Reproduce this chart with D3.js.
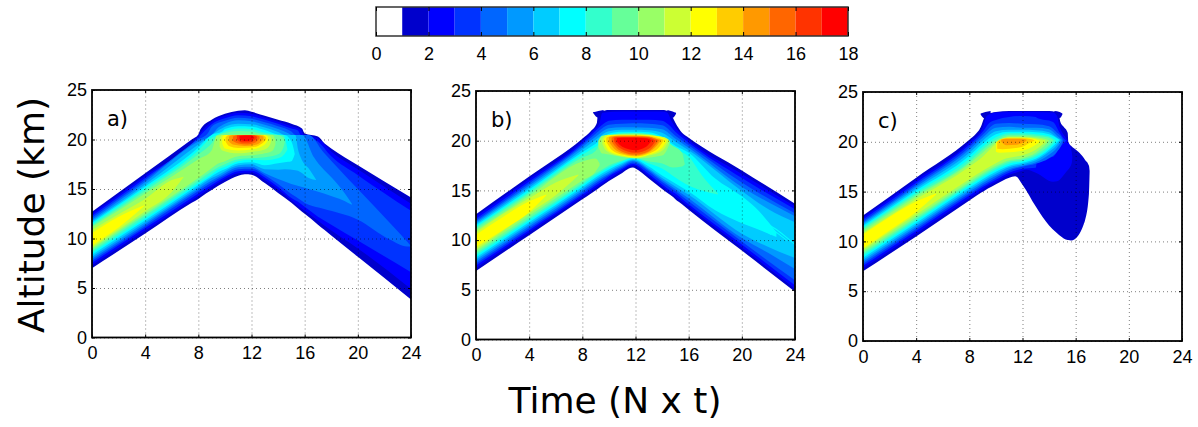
<!DOCTYPE html>
<html>
<head>
<meta charset="utf-8">
<title>Altitude vs time contours</title>
<style>
  html, body { margin: 0; padding: 0; background: #fff; }
  svg { display: block; }
  text { font-family: "Liberation Sans", sans-serif; fill: #000; }
  .title, .tag { font-family: "DejaVu Sans", sans-serif; }
</style>
<script src="https://d3js.org/d3.v7.min.js"></script>
</head>
<body>
<svg width="1198" height="427"></svg>
<script>
// colour of each unit step of the colourbar, 0-1 up to 17-18
var levelColors = ["#ffffff","#0000cc","#0000ff","#0033ff","#0066ff","#0099ff","#00ccff","#00ffff",
                   "#33ffcc","#66ff99","#99ff66","#ccff33","#ffff00","#ffcc00","#ff9900","#ff6600","#ff3300","#ff0000"];
var barTicks = [0,2,4,6,8,10,12,14,16,18];
var timeTicks = [0,4,8,12,16,20,24];
var altTicks = [0,5,10,15,20,25];

// contour bands: [level, [[time, lower km, upper km], ...]]
var bandsA = [
  [1,[[0,7,12.7],[4,10.5,16.6],[7.5,13.6,20],[8,14,20.5],[8.15,14.15,21],[9,14.9,22],[10,15.7,22.6],[11,16.35,22.9],[11.5,16.5,22.95],[12,16.45,22.8],[13,15.6,22.4],[14,14.6,22],[15,13.6,21.6],[15.8,12.7,21.1],[16,12.5,20.6],[17,11.4,20.3],[17.5,10.85,19.6],[18,10.3,19.1],[20,8.15,17.4],[24,3.85,14.15]]],
  [2,[[0,7.3,12.5],[4,10.8,16.35],[8,14.3,20.35],[8.3,14.55,20.9],[9,15.2,21.8],[10,16,22.4],[11,16.6,22.7],[12,16.65,22.6],[13,15.9,22.2],[14,14.95,21.8],[15,13.85,21.35],[15.7,13.1,21],[15.9,12.9,20.5],[17,11.8,20.1],[18,10.8,18.8],[20,9,17],[24,4.9,13.5]]],
  [3,[[0,7.55,12.3],[4,11.05,16.1],[8,14.55,20.2],[8.5,15,20.9],[9,15.4,21.55],[10,16.2,22.15],[11,16.8,22.45],[12,16.85,22.35],[13,16.15,22],[14,15.2,21.6],[15,14.1,21.1],[15.5,13.7,20.9],[15.7,13.5,20.45],[16,13.2,20.4],[17,12.2,19.8],[18,11.4,18.3],[20,9.8,16.4],[24,6.6,12.8]]],
  [4,[[0,7.75,12.1],[4,11.25,15.9],[8,14.8,20],[8.7,15.4,20.6],[9,15.65,21.3],[10,16.4,21.9],[11,17,22.2],[12,17.05,22.1],[13,16.4,21.75],[14,15.5,21.35],[15,14.5,20.8],[15.3,14.25,20.45],[16.3,13.4,20.45],[17.4,13,18.75],[20,11.9,15],[22.4,9.9,11.6],[23.7,9.2,9.7],[24,9.2,9.25]]],
  [5,[[0,7.95,11.9],[4,11.45,15.7],[8,15,19.8],[9,15.85,20.45],[9.5,16.2,21.2],[10,16.6,21.6],[11,17.2,21.95],[12,17.25,21.85],[13,16.6,21.5],[14,16,21.05],[14.8,15.6,20.6],[15,15.5,20.45],[15.8,15.2,20.45],[16.7,14.85,18.2],[18.2,14.2,15.9],[19,13.8,14.6],[19.55,13.4,13.5]]],
  [6,[[0,8.15,11.75],[4,11.65,15.45],[8,15.2,19.5],[9,16.1,20.45],[9.6,16.5,21],[10,16.8,21.3],[11,17.4,21.6],[12,17.5,21.55],[13,17,21.2],[14,16.95,20.75],[14.5,17,20.45],[15.3,16.9,20.45],[15.5,16.85,19],[15.7,16.7,18.2],[16.4,16.05,16.9],[16.85,15.9,15.95]]],
  [7,[[0,8.35,11.6],[4,11.85,15.25],[8,15.4,19.2],[9,16.3,20.45],[9.8,16.9,20.8],[10,17,21.05],[11,17.6,21.35],[12,17.7,21.3],[13,17.4,20.95],[14,17.6,20.5],[14.5,17.7,20.45],[15,17.8,19.8],[15.2,18.3,18.9],[15.25,18.5,18.55]]],
  [8,[[0,8.55,11.45],[4,12.05,15.05],[8,15.6,18.9],[9,16.5,20.2],[9.4,16.9,20.45],[10,17.25,20.8],[11,17.8,21.1],[12,17.95,21.05],[13,17.9,20.7],[14,18.1,20.45],[14.4,18.4,20.45],[14.7,19,19.05]]],
  [9,[[0,8.75,11.3],[4,12.3,14.8],[8,15.85,18.5],[9,16.8,19.6],[9.5,17.2,20.45],[10,17.5,20.65],[11,18,20.85],[12,18.1,20.8],[13,18.2,20.55],[14,18.5,20.45],[14.4,19.2,20.2],[14.5,19.7,19.75]]],
  [10,[[0,8.95,11.15],[4,12.5,14.55],[8,16.1,18],[9,17.1,18.9],[9.4,17.5,20.4],[10,17.8,20.45],[11,18.3,20.5],[12,18.4,20.5],[13,18.6,20.45],[13.6,18.9,20.45],[13.8,19.5,19.9]]],
  [11,[[0,9.1,10.85],[2,10.9,12.45],[4,12.75,14],[6,14.7,15.9],[6.9,16.2,16.25]]],
  [11,[[9.6,19.3,20.1],[9.8,18.9,20.45],[11,18.6,20.45],[12,18.75,20.45],[13,19,20.45],[13.4,19.5,20.3],[13.5,20,20.05]]],
  [12,[[0,9.3,10.55],[2,11.1,12.2],[3.95,13.3,13.35]]],
  [12,[[9.8,19.6,20.2],[10,19.1,20.45],[11,18.9,20.45],[12,19,20.45],[13,19.5,20.45],[13.25,20,20.2]]],
  [13,[[10.05,19.8,20.2],[10.3,19.35,20.45],[11,19.15,20.45],[12,19.2,20.45],[12.8,19.6,20.45],[13.1,20,20.2]]],
  [14,[[10.3,19.8,20.3],[10.6,19.5,20.45],[11.5,19.35,20.45],[12.4,19.5,20.45],[12.9,20,20.3]]],
  [15,[[10.6,19.85,20.3],[11,19.6,20.45],[11.7,19.5,20.45],[12.3,19.7,20.42],[12.6,20.1,20.3]]],
  [16,[[10.9,20,20.4],[11.3,19.7,20.45],[11.8,19.7,20.45],[12.2,19.9,20.4],[12.4,20.1,20.3]]],
  [17,[[11.1,20.05,20.35],[11.5,19.85,20.4],[12,19.95,20.4],[12.2,20.15,20.25]]]
];

var bandsB = [
  [1,[[0,6.9,12.6],[4,10.5,16.4],[8,14.1,20.2],[8.6,14.65,20.9],[9.1,15.1,21.8],[9.15,15.15,22.4],[9.4,15.4,22.9],[10,15.95,23.1],[11,16.75,23.1],[11.5,17.2,23.1],[11.8,17.3,23.1],[12,17.2,23.1],[13,16.2,23.1],[14,15.15,23.1],[14.6,14.55,22.9],[14.85,14.3,22.2],[15,14.1,21.8],[15.5,13.6,20.8],[16,13.05,20.3],[20,8.95,17],[24,4.8,13.65]]],
  [1,[[8.8,22.8,22.85],[9.2,22.3,23],[9.6,22.5,23.1]]],
  [1,[[14.4,22.5,23.1],[14.8,22.3,22.95],[15.05,22.7,22.8]]],
  [2,[[0,7.2,12.4],[4,10.8,16.15],[8,14.35,19.95],[8.8,15.1,21],[9.3,15.55,21.8],[9.5,15.7,22.8],[11,17,22.95],[11.8,17.5,22.95],[13,16.45,22.95],[14,15.4,22.95],[14.4,15,22.8],[14.7,14.7,22],[15.2,14.2,21],[16,13.35,20.05],[20,9.25,16.65],[24,5.1,13.4]]],
  [3,[[0,7.45,12.15],[4,11,15.9],[8,14.55,19.75],[9,15.5,21],[9.6,16,21.7],[10,16.4,22],[11,17.15,22.1],[11.8,17.65,22.1],[13,16.65,22.1],[14,15.6,22],[14.5,15.1,21.6],[15,14.7,20.9],[16,13.6,19.8],[20,9.55,16.25],[24,5.45,13.1]]],
  [4,[[0,7.65,11.95],[4,11.2,15.7],[8,14.75,19.55],[9,15.7,20.7],[10,16.55,21.6],[11,17.3,21.7],[11.8,17.8,21.75],[13,16.9,21.7],[14,15.85,21.55],[15,14.95,20.5],[16,13.9,19.55],[20,9.85,15.8],[24,5.95,12.7]]],
  [5,[[0,7.85,11.8],[4,11.4,15.5],[8,14.95,19.35],[9,15.9,20.4],[10,16.7,21.25],[11,17.45,21.35],[11.8,17.95,21.35],[13,17.05,21.3],[14,16.05,21.15],[15,15.15,20.2],[16,14.2,19.3],[20,10.2,15.35],[22,8.7,13.8],[24,7.1,12.4]]],
  [6,[[0,8.05,11.65],[4,11.6,15.3],[8,15.15,19.1],[9,16.1,20.1],[10,16.9,20.95],[11,17.6,21.1],[11.8,18.05,21.1],[13,17.2,21.05],[14,16.25,20.8],[15,15.4,19.9],[16,14.55,19.05],[20,10.65,14.95],[22,9.3,13.1],[24,8.2,11.8]]],
  [7,[[0,8.25,11.5],[4,11.8,15.1],[8,15.35,18.85],[9,16.3,19.7],[10,17.1,20.7],[11,17.75,20.9],[11.8,18.15,20.9],[13,17.4,20.85],[14,16.5,20.4],[15,15.7,19.5],[16,14.9,18.8],[18,13,16.2],[20,11.7,14.4],[21,11.2,13.3],[22.6,10.3,10.8]]],
  [7,[[19.8,12.9,13],[21,11.6,11.8],[22.2,10.5,10.6]]],
  [7,[[20.5,12.7,12.8],[22,11.3,11.45],[23.4,9.9,10]]],
  [7,[[21.5,11.9,12],[23,10.6,10.75],[24,9.5,9.6]]],
  [8,[[0,8.45,11.35],[4,12,14.9],[8,15.55,18.6],[9,16.5,19.4],[10,17.3,20.4],[11,17.9,20.8],[11.8,18.25,20.8],[13,17.7,20.7],[14,17.2,20.3],[15,16.3,19.2],[16,15.5,18.4],[17,15,16.5],[18.2,14.6,14.7]]],
  [9,[[0,8.65,11.2],[4,12.2,14.7],[8,15.75,18.3],[9,16.7,19],[9.5,17.1,19.9],[10,17.5,20.3],[11,18,20.7],[11.8,18.3,20.75],[13,17.9,20.65],[14,17.7,20.2],[14.8,17.3,19.5],[15.5,17.4,18.8],[15.7,17.6,17.7]]],
  [10,[[0,8.85,11],[4,12.45,14.45],[8,16,17.9],[9,16.9,18.2],[9.3,17.5,17.7]]],
  [10,[[9.2,19.4,20],[9.5,18.7,20.5],[10,18.6,20.6],[12,18.2,20.65],[14,18.5,20.4],[14.4,19.2,20.2],[14.6,19.9,19.95]]],
  [11,[[0,9.05,10.8],[2,10.9,12.6],[4,12.7,14.2],[6,14.5,15.8],[7.7,16.5,16.6]]],
  [11,[[9.5,19.7,20.2],[9.8,19,20.55],[11,18.4,20.6],[12,18.25,20.6],[13,18.5,20.55],[14.1,19.1,20.35],[14.5,20,20.1]]],
  [12,[[0,9.3,10.55],[2,11,12.3],[4,12.8,13.9],[5.3,14.5,14.6]]],
  [12,[[9.65,19.8,20.2],[10,19,20.55],[11,18.5,20.58],[12,18.3,20.58],[13,18.6,20.52],[14,19.3,20.3],[14.3,19.9,20.1]]],
  [13,[[9.8,19.9,20.3],[10.2,19.1,20.5],[11,18.6,20.55],[12,18.4,20.55],[13,18.7,20.48],[13.8,19.4,20.25],[14.1,20,20.1]]],
  [14,[[10,19.9,20.35],[10.4,19.2,20.48],[11,18.75,20.5],[12,18.5,20.5],[13,18.85,20.42],[13.6,19.5,20.2],[13.9,20,20.1]]],
  [15,[[10.2,19.9,20.3],[10.6,19.25,20.42],[11,18.9,20.42],[12,18.6,20.42],[13,18.95,20.38],[13.5,19.6,20.2],[13.75,20,20.05]]],
  [16,[[10.4,19.9,20.3],[10.8,19.3,20.38],[12,18.8,20.38],[13,19.2,20.3],[13.5,19.95,20.05]]],
  [17,[[10.6,19.9,20.25],[11,19.4,20.3],[12,19.05,20.3],[12.8,19.4,20.25],[13.2,20,20.05]]]
];

var bandsC = [
  [1,[[0,7,12.6],[4,10.5,16.4],[8,14.1,20.2],[8.5,14.55,20.8],[8.9,14.9,21.6],[9.05,15,22.2],[9.4,15.3,22.8],[10,15.75,23],[11,16.4,23.1],[11.45,16.55,23.1],[12,15.7,23.1],[13,13.5,23.1],[14,11.6,23.1],[14.5,10.95,23],[14.75,10.65,22.6],[14.85,10.55,22],[15.1,10.3,21.5],[15.4,10.15,20.9],[15.45,10.13,19.9],[15.65,10.1,19.6],[16.2,10.6,19],[16.6,11.7,18.4],[16.7,12.1,18.2],[17,14.8,17.6],[17.05,17,17.1]]],
  [1,[[8.85,22.75,22.85],[9.2,22.3,23],[9.6,22.6,23.1]]],
  [1,[[14.4,22.6,23.1],[14.8,22.4,23],[15,22.75,22.85]]],
  [2,[[0,7.3,12.4],[4,10.8,16.15],[8,14.35,19.95],[9,15.2,21.4],[9.3,15.5,22.6],[10,16,22.95],[11,16.7,23],[11.6,16.95,23],[12.3,17.2,23],[13,16.9,23],[14.3,16,22.95],[14.6,16.05,22.6],[14.8,16.2,21.5],[15,16.5,20.9],[15.3,17,20.3],[15.7,17.85,19],[15.75,18.4,18.5]]],
  [3,[[0,7.55,12.2],[4,11.05,15.9],[8,14.6,19.7],[9,15.45,21],[9.5,15.85,21.9],[10,16.2,22.2],[11,16.9,22.5],[12,17.3,22.6],[13,17.4,22.5],[13.1,18.2,22.4],[14.3,18.5,22],[14.8,19.4,20.9],[15.2,20,20.2],[15.3,20.1,20.12]]],
  [4,[[0,7.75,12],[4,11.25,15.7],[8,14.8,19.45],[9,15.65,20.7],[10,16.4,21.8],[11,17.1,21.9],[12,17.5,21.8],[13,17.8,21.75],[14,18.35,21.55],[14.6,19,20.9],[15,19.9,20.3],[15.05,20.1,20.12]]],
  [5,[[0,7.95,11.85],[4,11.45,15.5],[8,15,19.2],[9,15.85,20.4],[10,16.6,21.4],[11,17.25,21.5],[12,17.6,21.4],[13,17.95,21.4],[14,18.7,21.25],[14.6,19.4,20.6],[14.95,20.1,20.2]]],
  [6,[[0,8.15,11.7],[4,11.65,15.3],[8,15.2,18.9],[9,16.05,20.1],[10,16.8,21.05],[11,17.45,21.2],[12,17.75,21.2],[13,18.15,21.15],[14,19,20.95],[14.6,19.7,20.4],[14.85,20.15,20.2]]],
  [7,[[0,8.35,11.55],[4,11.85,15.1],[8,15.4,18.6],[9,16.25,19.8],[10,17,20.75],[11,17.6,21],[12,17.9,21],[13,18.3,20.95],[14,19.2,20.75],[14.75,20.15,20.2]]],
  [8,[[0,8.55,11.4],[4,12.05,14.9],[8,15.6,18.3],[9,16.45,19.5],[10,17.2,20.45],[11,17.8,20.85],[12,18.05,20.85],[13,18.5,20.75],[14,19.4,20.55],[14.5,20.1,20.15]]],
  [9,[[0,8.75,11.25],[4,12.25,14.7],[8,15.8,18],[9,16.65,19.2],[10,17.4,20.2],[11,18,20.7],[12,18.2,20.7],[13,18.7,20.6],[14,19.65,20.4],[14.3,20.1,20.15]]],
  [10,[[0,8.95,11.05],[4,12.45,14.5],[8,16,17.8],[9,16.85,18.9],[10,17.6,20],[11,18.15,20.55],[12,18.35,20.55],[13,18.9,20.45],[13.8,19.8,20.25],[14,20.1,20.15]]],
  [11,[[0,9.15,10.85],[4,12.7,14.25],[8,16.25,17.5],[9,17.1,18.5],[10,17.85,19.8],[10.5,18.2,20.2],[11,18.4,20.45],[12,18.65,20.45],[13,19.2,20.35],[13.7,19.95,20.15]]],
  [12,[[0,9.3,10.7],[2,11.1,12.45],[4,12.95,14],[5.5,14.7,14.8]]],
  [12,[[10,19,19.9],[10.3,18.9,20.2],[11,18.95,20.4],[12,19.1,20.4],[13,19.7,20.25],[13.3,20,20.1]]],
  [13,[[10.1,19.3,20],[10.5,19.25,20.3],[11,19.3,20.35],[12,19.5,20.35],[12.7,20,20.25],[12.9,20.1,20.15]]],
  [14,[[10.4,20,20.2],[10.8,19.65,20.3],[11.5,19.7,20.3],[12.1,19.95,20.28],[12.3,20.1,20.2]]]
];

var panels = [
  {tag:"a)", bands:bandsA, left:92,  right:411, top:90, bottom:337.5},
  {tag:"b)", bands:bandsB, left:476, right:795, top:91, bottom:339.5},
  {tag:"c)", bands:bandsC, left:863, right:1182,top:92, bottom:341}
];

var svg = d3.select("svg");

// colourbar
var barX = d3.scaleLinear().domain([0,18]).range([376,848]);
var barTop = 7, barBottom = 36;
var bar = svg.append("g");
bar.selectAll("rect").data(levelColors).enter().append("rect")
  .attr("x",(d,i)=>barX(i))
  .attr("y",barTop)
  .attr("width",(d,i)=>barX(i+1)-barX(i))
  .attr("height",barBottom-barTop)
  .attr("fill",d=>d);
bar.append("rect")
  .attr("x",barX(0)).attr("y",barTop)
  .attr("width",barX(18)-barX(0)).attr("height",barBottom-barTop)
  .attr("fill","none").attr("stroke","#333").attr("stroke-width",1.5);
var barAxis = bar.append("g")
  .attr("transform",`translate(0,${barBottom})`)
  .call(d3.axisBottom(barX).tickValues(barTicks).tickSize(-4).tickPadding(11).tickFormat(d3.format("d")));
barAxis.select(".domain").remove();
barAxis.selectAll("text").style("font-size","18px").style("font-family","Liberation Sans");
bar.append("g")
  .attr("transform",`translate(0,${barTop})`)
  .call(d3.axisTop(barX).tickValues(barTicks).tickSize(-4).tickFormat(""))
  .select(".domain").remove();

// one axes box per panel
panels.forEach(function(p){
  var x = d3.scaleLinear().domain([0,24]).range([p.left,p.right]);
  var y = d3.scaleLinear().domain([0,25]).range([p.bottom,p.top]);
  var w = p.right-p.left, h = p.bottom-p.top;
  var g = svg.append("g");

  var area = d3.area()
    .x(d=>x(d[0]))
    .y0(d=>y(d[1]))
    .y1(d=>y(d[2]))
    .curve(d3.curveMonotoneX);

  g.selectAll("path.band").data(p.bands).enter().append("path")
    .attr("class","band")
    .attr("d",d=>area(d[1]))
    .attr("fill",d=>levelColors[d[0]]);

  // dotted grid on top of the fill
  var gridX = g.append("g").attr("transform",`translate(0,${p.bottom})`)
    .call(d3.axisBottom(x).tickValues(timeTicks).tickSize(-h).tickFormat(""));
  var gridY = g.append("g").attr("transform",`translate(${p.left},0)`)
    .call(d3.axisLeft(y).tickValues(altTicks).tickSize(-w).tickFormat(""));
  [gridX,gridY].forEach(function(a){
    a.select(".domain").remove();
    a.selectAll("line").attr("stroke","#000").attr("stroke-opacity",0.5).attr("stroke-dasharray","1,3");
  });

  // short inward ticks on all four sides
  [[d3.axisBottom(x),timeTicks,0,p.bottom],[d3.axisTop(x),timeTicks,0,p.top],
   [d3.axisLeft(y),altTicks,p.left,0],[d3.axisRight(y),altTicks,p.right,0]].forEach(function(t){
    g.append("g").attr("transform",`translate(${t[2]},${t[3]})`)
      .call(t[0].tickValues(t[1]).tickSize(-3).tickFormat(""))
      .select(".domain").remove();
  });

  g.append("rect")
    .attr("x",p.left).attr("y",p.top).attr("width",w).attr("height",h)
    .attr("fill","none").attr("stroke","#000").attr("stroke-width",1.8);

  var labelsX = g.append("g").attr("transform",`translate(0,${p.bottom})`)
    .call(d3.axisBottom(x).tickValues(timeTicks).tickSize(0).tickPadding(9).tickFormat(d3.format("d")));
  var labelsY = g.append("g").attr("transform",`translate(${p.left},0)`)
    .call(d3.axisLeft(y).tickValues(altTicks).tickSize(0).tickPadding(5).tickFormat(d3.format("d")));
  [labelsX,labelsY].forEach(function(a){
    a.select(".domain").remove();
    a.selectAll("text").style("font-size","18px").style("font-family","Liberation Sans");
  });

  g.append("text").attr("class","tag")
    .attr("x",p.left+15).attr("y",p.top+36)
    .style("font-size","21px")
    .text(p.tag);
});

svg.append("text").attr("class","title")
  .attr("transform","translate(44,215) rotate(-90)")
  .attr("text-anchor","middle")
  .style("font-size","36px")
  .text("Altitude (km)");
svg.append("text").attr("class","title")
  .attr("x",615).attr("y",413)
  .attr("text-anchor","middle")
  .style("font-size","36px")
  .text("Time (N x t)");
</script>
</body>
</html>
